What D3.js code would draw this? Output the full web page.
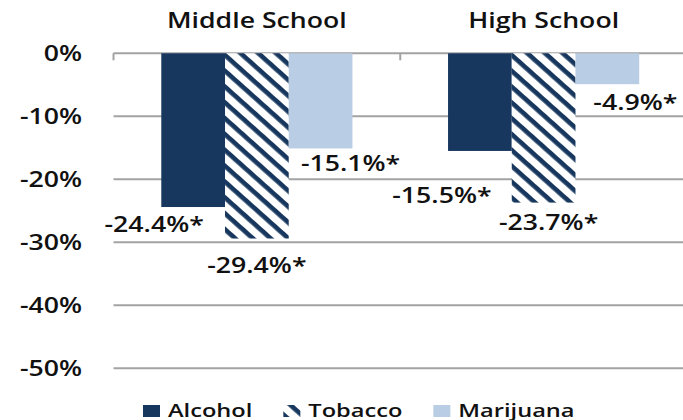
<!DOCTYPE html>
<html>
<head>
<meta charset="utf-8">
<script src="https://cdn.jsdelivr.net/npm/d3@7"></script>
<style>
  body { margin: 0; background: #fff; }
  svg { display: block; }
  text { font-family: "Open Sans", sans-serif; font-size: 21px; font-weight: 600; fill: #111; }
  .legend text { font-size: 18.6px; }
</style>
</head>
<body>
<svg width="683" height="420"></svg>
<script>
(function () {

  // data
  const schools = ["Middle School", "High School"];
  const substances = ["Alcohol", "Tobacco", "Marijuana"];
  const alcohol = [-24.4, -15.5];
  const tobacco = [-29.4, -23.7];
  const marijuana = [-15.1, -4.9];
  const yTicks = [0, -10, -20, -30, -40, -50];

  const series = { Alcohol: alcohol, Tobacco: tobacco, Marijuana: marijuana };

  // layout
  const SX = 1.27;           // the reference text is drawn wide
  const navy = "#17375e";
  const light = "#b9cde5";
  const grid = "#a3a3a3";
  // hand-moved data labels: [dx, dy] from bar centre / bar end
  const labelShift = [
    [[-39, 25], [0, 34], [30, 23]],
    [[-38, 52], [5, 27], [28, 26]]
  ];

  const svg = d3.select("svg");

  const x0 = d3.scaleBand().domain(schools).range([113.5, 687]);
  const x1 = d3.scaleBand().domain(substances).range([0, x0.bandwidth()]).paddingOuter(0.75);
  const y = d3.scaleLinear().domain([-50, 0]).range([368.3, 53.3]);

  const defs = svg.append("defs");
  const pat = defs.append("pattern")
    .attr("id", "stripes")
    .attr("patternUnits", "userSpaceOnUse")
    .attr("width", 11.2)
    .attr("height", 11.2)
    .attr("patternTransform", "scale(1.12,1) rotate(45)");
  pat.append("rect").attr("width", 11.2).attr("height", 11.2).attr("fill", "#fff");
  pat.append("rect").attr("width", 11.2).attr("height", 4.4).attr("fill", navy);

  const fillOf = s => s === "Alcohol" ? navy : s === "Tobacco" ? "url(#stripes)" : light;

  function wideText(parent, x, yy, str, anchor) {
    return parent.append("g")
      .attr("transform", `translate(${x},${yy}) scale(${SX},1)`)
      .append("text")
      .attr("text-anchor", anchor)
      .text(str);
  }

  // gridlines
  svg.append("g")
    .selectAll("line")
    .data(yTicks)
    .enter().append("line")
    .attr("x1", x0.range()[0])
    .attr("x2", x0.range()[1])
    .attr("y1", d => y(d))
    .attr("y2", d => y(d))
    .attr("stroke", grid)
    .attr("stroke-width", 2);

  // category ticks on the zero line
  svg.append("g")
    .selectAll("line")
    .data(schools.map(s => x0(s)).concat([x0.range()[1]]))
    .enter().append("line")
    .attr("x1", d => d).attr("x2", d => d)
    .attr("y1", y(0)).attr("y2", y(0) + 7)
    .attr("stroke", grid)
    .attr("stroke-width", 2);

  // y axis labels
  const yAxis = d3.axisLeft(y)
    .tickValues(yTicks)
    .tickSize(0)
    .tickPadding(0)
    .tickFormat(d => d + "%");
  const ag = svg.append("g")
    .attr("transform", `translate(${x0.range()[0]},0)`)
    .call(yAxis);
  ag.select(".domain").remove();
  ag.selectAll("text")
    .attr("x", -31.5 / SX)
    .attr("dy", "0.34em")
    .attr("transform", `scale(${SX},1)`);

  // bars
  schools.forEach((school, i) => {
    const g = svg.append("g").attr("transform", `translate(${x0(school)},0)`);
    g.selectAll("rect")
      .data(substances)
      .enter().append("rect")
      .attr("x", s => x1(s))
      .attr("y", y(0))
      .attr("width", x1.bandwidth())
      .attr("height", s => y(series[s][i]) - y(0))
      .attr("fill", s => fillOf(s));

    substances.forEach((s, j) => {
      const v = series[s][i];
      const cx = x1(s) + x1.bandwidth() / 2 + labelShift[i][j][0];
      const cy = y(v) + labelShift[i][j][1];
      wideText(g, cx, cy, v.toFixed(1) + "%*", "middle");
    });

    wideText(svg, x0(school) + x0.bandwidth() / 2, 28.3, school, "middle");
  });

  // legend
  const leg = svg.append("g").attr("class", "legend");
  let lx = 143;
  substances.forEach(s => {
    leg.append("rect")
      .attr("x", lx).attr("y", 405)
      .attr("width", 17).attr("height", 12)
      .attr("fill", fillOf(s));
    const t = wideText(leg, lx + 25, 416.5, s, "start");
    const w = t.node().getComputedTextLength() * SX;
    lx += 25 + w + 31;
  });

}());
</script>
</body>
</html>
